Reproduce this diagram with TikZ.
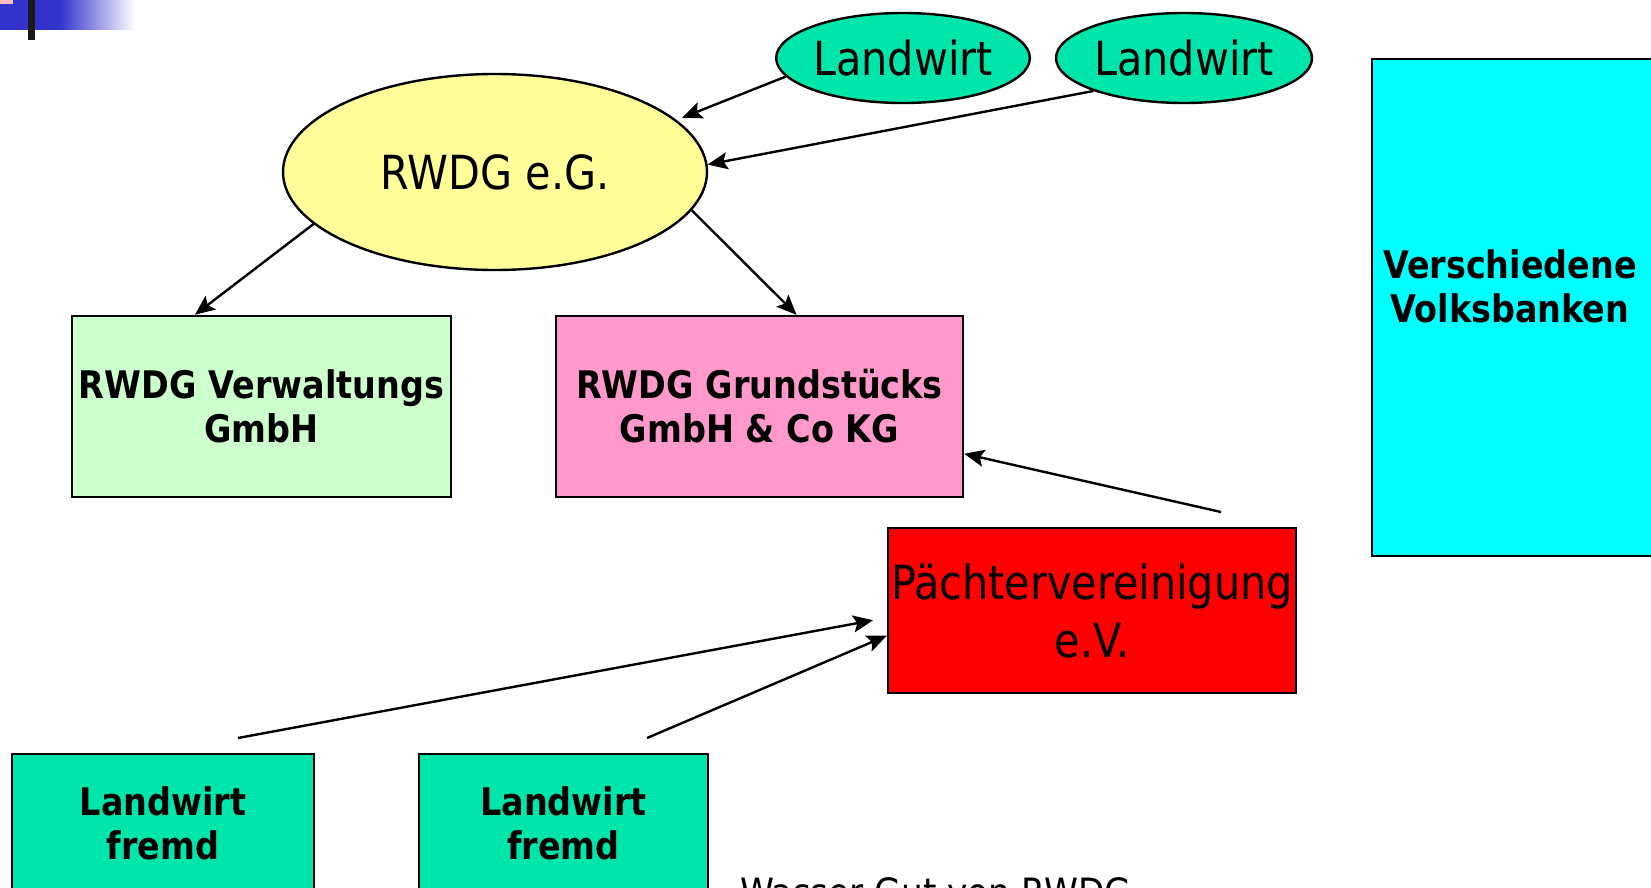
\documentclass[tikz,border=0pt]{standalone}
\usepackage{fontspec}
\setmainfont{DejaVu Sans}[FakeStretch=0.88]
\usetikzlibrary{shapes.geometric,arrows.meta}

\definecolor{farmgreen}{HTML}{00E5AA}
\definecolor{coopyellow}{HTML}{FFFF99}
\definecolor{admingreen}{HTML}{CCFFCC}
\definecolor{landpink}{HTML}{FF99CC}
\definecolor{bankcyan}{HTML}{00FFFF}
\definecolor{decoblue}{HTML}{3333CC}

\tikzset{
  arr/.style={draw=black,line width=2.4pt,-{Stealth[length=20pt,width=17pt,inset=4pt]}},
  oval/.style={ellipse,draw=black,line width=2.4pt,inner sep=0pt},
  firm/.style={rectangle,draw=black,line width=2.4pt,inner sep=0pt,align=center,
    font=\fontsize{38}{44}\selectfont\bfseries},
  big/.style={font=\fontsize{47}{58}\selectfont}
}

\begin{document}
\begin{tikzpicture}[x=1pt,y=-1pt]
    \useasboundingbox (0,0) rectangle (1651,888);
    \fill[white] (0,0) rectangle (1651,888);
    \clip (0,0) rectangle (1651,888);
    % corner mark
    \fill[decoblue] (0,0) rectangle (60,30);
    \shade[left color=decoblue,right color=white] (60,0) rectangle (135,30);
    \fill[black!90] (28,0) rectangle (35,40);
    \fill[pink] (0,0) rectangle (13,4);

    \node[oval,fill=farmgreen,big,minimum width=242pt,minimum height=90pt] (lw1) at (903,58) {Landwirt};
    \node[oval,fill=farmgreen,big,minimum width=256pt,minimum height=90pt] (lw2) at (1184,58) {Landwirt};
    \node[oval,fill=coopyellow,big,minimum width=424pt,minimum height=196pt] (rwdg) at (495,172) {RWDG e.G.};
    \node[firm,fill=admingreen,minimum width=379pt,minimum height=181pt] (verw) at (261.5,406.5) {RWDG Verwaltungs\\GmbH};
    \node[firm,fill=landpink,minimum width=407pt,minimum height=181pt] (grund) at (759.5,406.5) {RWDG Grundstücks\\GmbH \& Co KG};
    \node[firm,fill=red,font=\fontsize{47}{58}\selectfont,minimum width=408pt,minimum height=165pt] (pacht) at (1092,610.5) {Pächtervereinigung\\e.V.};
    \node[firm,fill=bankcyan,minimum width=288pt,minimum height=497pt] (vbank) at (1516,307.5) {};
    \node[align=center,font=\fontsize{38}{44}\selectfont\bfseries] (vbanktxt) at (1510,286) {Verschiedene\\Volksbanken};
    \node[firm,fill=farmgreen,minimum width=302pt,minimum height=138pt] (fremd1) at (163,823) {Landwirt\\fremd};
    \node[firm,fill=farmgreen,minimum width=289pt,minimum height=138pt] (fremd2) at (563.5,823) {Landwirt\\fremd};
    \node[anchor=base west,font=\fontsize{39}{44}\selectfont,inner sep=0pt] (note) at (740,906) {Wasser Gut von RWDG};

    % loose ends
    \coordinate (s5) at (1221,512);
    \coordinate (s6) at (238,738);
    \coordinate (s7) at (647,738);

    \draw[arr,shorten >=6pt] (lw1.189) -- (rwdg.16);
    \draw[arr] (lw2.200) -- (rwdg.2);
    \draw[arr] (rwdg.196) -- (verw.126);
    \draw[arr] (rwdg.-11) -- (grund.68);
    \draw[arr] (s5) -- (grund.-13);
    \draw[arr,shorten >=14pt] (s6) -- (pacht.182);
    \draw[arr] (s7) -- (pacht.187);
\end{tikzpicture}
\end{document}
